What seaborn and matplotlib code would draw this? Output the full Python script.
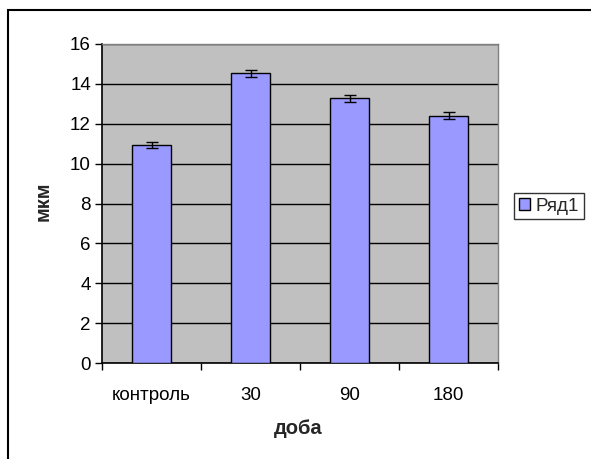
import matplotlib
matplotlib.use("Agg")
import matplotlib.pyplot as plt
import seaborn as sns
import pandas as pd
import numpy as np
from matplotlib.patches import Rectangle, Patch

categories = ["контроль", "30", "90", "180"]
values = [10.93, 14.53, 13.27, 12.40]
errors = [0.17, 0.17, 0.17, 0.17]
series_name = "Ряд1"
y_ticks = [0, 2, 4, 6, 8, 10, 12, 14, 16]

sns.set_theme(style="white")
plt.rcParams['font.family'] = ['Liberation Sans', 'DejaVu Sans']

W, H = 591, 459
fig = plt.figure(figsize=(W / 100, H / 100), dpi=100)
fig.patch.set_facecolor("white")

ax = fig.add_axes([102 / W, 1 - 363 / H, (498 - 102) / W, (363 - 44) / H])
ax.set_facecolor("#C0C0C0")

FS = 13.5

df = pd.DataFrame({"доба": categories, "мкм": values})
sns.barplot(data=df, x="доба", y="мкм", ax=ax, color="#9999FF",
            edgecolor="black", linewidth=1.0, width=0.4, saturation=1,
            errorbar=None, zorder=3)
ax.errorbar(np.arange(len(categories)), values, yerr=errors, fmt="none",
            ecolor="black", elinewidth=1.0, capsize=4, capthick=1.0, zorder=4)

ax.set_ylim(0, 16)
ax.set_xlim(-0.5, len(categories) - 0.5)
ax.set_yticks(y_ticks)
ax.set_yticklabels([str(t) for t in y_ticks], fontsize=FS, color="black")
ax.yaxis.grid(True, color="black", linewidth=1.0, zorder=1)
ax.set_axisbelow(True)

# x ticks at category boundaries, labels centred
ax.set_xticks(np.arange(len(categories) + 1) - 0.5)
ax.set_xticklabels([])
ax.set_xticks(np.arange(len(categories)), minor=True)
ax.set_xticklabels(categories, minor=True, fontsize=FS, color="black")
ax.tick_params(axis="x", which="major", direction="out", length=5, width=1, color="black", bottom=True)
ax.tick_params(axis="x", which="minor", length=0, pad=17)
ax.tick_params(axis="y", direction="out", length=5, width=1, color="black", left=True, pad=3)

for s in ["left", "bottom"]:
    ax.spines[s].set_color("black")
    ax.spines[s].set_linewidth(1.2)
for s in ["top", "right"]:
    ax.spines[s].set_color("#808080")
    ax.spines[s].set_linewidth(1.0)

ax.set_xlabel("доба", fontsize=14.5, fontweight="bold")
ax.set_ylabel("мкм", fontsize=14.5, fontweight="bold")
ax.xaxis.label.set_va("center")
ax.yaxis.label.set_va("center")
ax.xaxis.set_label_coords((298.5 - 102) / 396, (363 - 429) / 319)
ax.yaxis.set_label_coords((43 - 102) / 396, (363 - 201) / 319)

handle = Patch(facecolor="#9999FF", edgecolor="black", linewidth=1.0)
leg = fig.legend([handle], [series_name], loc="upper left",
                 bbox_to_anchor=(514 / W, 1 - 193 / H), fontsize=FS,
                 frameon=True, fancybox=False, edgecolor="black",
                 handlelength=0.6, handleheight=0.6, handletextpad=0.3,
                 borderpad=0.25, borderaxespad=0)
leg.get_frame().set_linewidth(1.0)

fig.patches.append(Rectangle((8 / W, -0.1), 1.2, (1 - 10 / H) + 0.1,
                             transform=fig.transFigure, fill=False,
                             edgecolor="black", linewidth=1.5))

fig.savefig("out.png", dpi=100)
